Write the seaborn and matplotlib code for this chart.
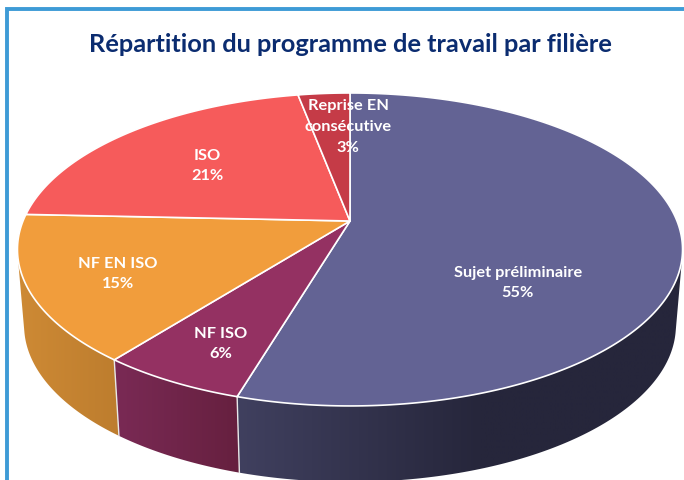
import numpy as np
import matplotlib
matplotlib.use("Agg")
import matplotlib.pyplot as plt
from matplotlib.colors import to_rgb
from matplotlib.patches import Polygon
import seaborn as sns

TITLE = "Répartition du programme de travail par filière"
categories = ["Sujet préliminaire", "NF ISO", "NF EN ISO", "ISO", "Reprise EN\nconsécutive"]
values = [54.6, 6.0, 15.1, 21.3, 3.0]

sns.set_theme(style="white")
plt.rcParams["font.family"] = ["Lato", "DejaVu Sans"]

top_colors = sns.color_palette(["#636394", "#943162", "#F19D3C", "#F65B5B", "#C53B47"])
side_left = ["#40405F", "#7A2A55", "#CE8A35", "#C04C4C", "#A03038"]
side_right = ["#26263B", "#66203F", "#BD7D2E", "#C04C4C", "#A03038"]
label_xy = [(518, 283), (221, 344), (118, 274), (207, 166), (348, 127)]

CX, CY = 350.0, 222.0
R, C, K = 327.0, 151.3, 0.1819
DEPTH, SHRINK = 76.0, 0.98


def project(theta, scale=1.0, dy=0.0):
    x, y = np.sin(theta), np.cos(theta)
    d = 1 + K * y
    return CX + scale * R * x / d, CY + dy - C * y / d


def hull(points):
    pts = sorted(set(map(tuple, points)))

    def half(seq):
        out = []
        for p in seq:
            while len(out) > 1 and ((out[-1][0] - out[-2][0]) * (p[1] - out[-2][1])
                                    - (out[-1][1] - out[-2][1]) * (p[0] - out[-2][0])) <= 0:
                out.pop()
            out.append(p)
        return out[:-1]

    return np.array(half(pts) + half(pts[::-1]))


fig = plt.figure(figsize=(6.84, 4.81), dpi=100, facecolor="white")
ax = fig.add_axes([0, 0, 1, 1])

edges = np.deg2rad(np.concatenate([[0], np.cumsum(values)]) * 3.6)

# side wall: horizontal gradient clipped to the wall of each slice
for i, (a, b) in enumerate(zip(edges[:-1], edges[1:])):
    t = np.linspace(a, b, 300)
    xt, yt = project(t)
    xb, yb = project(t, SHRINK, DEPTH)
    outline = hull(np.c_[np.r_[xt, xb], np.r_[yt, yb]])
    px, py = outline[:, 0], outline[:, 1]
    lo, xmax = px.min(), px.max()
    hi = 480.0 if i == 0 else xmax
    cl, cr = np.array(to_rgb(side_left[i])), np.array(to_rgb(side_right[i]))
    f = np.clip((np.linspace(lo, xmax, 512) - lo) / (hi - lo), 0, 1)[:, None]
    grad = (cl + (cr - cl) * f)[None, :, :]
    im = ax.imshow(grad, extent=(lo, xmax, py.max(), py.min()), aspect="auto",
                   interpolation="bilinear", zorder=2)
    patch = Polygon(outline, closed=True, transform=ax.transData, facecolor="none", edgecolor="none")
    ax.add_patch(patch)
    im.set_clip_path(patch)

# white seams on the side
for e in edges[1:3]:
    xa, ya = project(e)
    xb, yb = project(e, SHRINK, DEPTH)
    ax.plot([xa, xb], [ya, yb], color="#E8E8E8", lw=1.0, zorder=3)

# top face
for i, (a, b) in enumerate(zip(edges[:-1], edges[1:])):
    t = np.linspace(a, b, 300)
    x, y = project(t)
    ax.fill(np.r_[CX, x], np.r_[CY, y], facecolor=top_colors[i], edgecolor="white",
            linewidth=1.2, joinstyle="round", zorder=4)

# labels
for name, v, (lx, ly) in zip(categories, values, label_xy):
    ax.text(lx, ly, f"{name}\n{round(v)}%", color="white", fontsize=11.8, fontweight="bold",
            ha="center", va="center", linespacing=1.62, zorder=6)

ax.text(350, 44, TITLE, color="#0B2C70", fontsize=18.3, fontweight="bold",
        ha="center", va="center", zorder=6)

# frame
ax.plot([6.8, 6.8, 684], [481, 9.6, 9.6], color="#3E9BD6", lw=2.8, solid_joinstyle="miter", zorder=7)

ax.set_xlim(0, 684)
ax.set_ylim(481, 0)
ax.axis("off")

fig.savefig("out.png", dpi=100)
